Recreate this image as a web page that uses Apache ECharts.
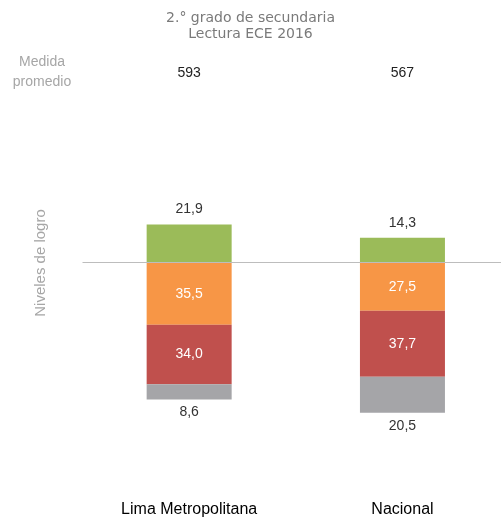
<!DOCTYPE html>
<html>
<head>
<meta charset="utf-8">
<script src="https://cdn.jsdelivr.net/npm/echarts@6/dist/echarts.min.js"></script>
<style>html,body{margin:0;padding:0;background:#fff}#c{width:501px;height:517px}</style>
</head>
<body>
<div id="c"></div>
<script>
const categories = ['Lima Metropolitana', 'Nacional'];
const medidaPromedio = [593, 567];
const satisfactorio = [21.9, 14.3];
const enProceso = [35.5, 27.5];
const enInicio = [34.0, 37.7];
const previoInicio = [8.6, 20.5];

const fmt = p => Math.abs(p.value).toFixed(1).replace('.', ',');
const chart = echarts.init(document.getElementById('c'), null, {renderer: 'canvas'});
const F = 'Liberation Sans, Arial, sans-serif';

chart.setOption({
  animation: false,
  title: {
    text: '2.° grado de secundaria\nLectura ECE 2016',
    left: 'center', top: 5,
    textStyle: {fontFamily: 'DejaVu Sans', fontWeight: 'normal', fontSize: 14, color: '#7a7a7a', lineHeight: 16}
  },
  graphic: [
    {type: 'text', x: 42, y: 72,
     style: {text: 'Medida\npromedio', fill: '#a6a6a6', font: '14px ' + F, align: 'center', verticalAlign: 'middle', lineHeight: 20}},
    {type: 'text', x: 41, y: 263, rotation: Math.PI / 2,
     style: {text: 'Niveles de logro', fill: '#a6a6a6', font: '15px ' + F, align: 'center', verticalAlign: 'middle'}}
  ],
  grid: {left: 82.5, width: 426.6, top: 157.7, height: 280, outerBoundsMode: 'none', containLabel: false},
  xAxis: [
    {type: 'category', data: categories, position: 'bottom',
     axisLine: {show: false}, axisTick: {show: false},
     axisLabel: {margin: 64, fontFamily: F, fontSize: 16, color: '#000'}},
    {type: 'category', data: medidaPromedio.map(String), position: 'top',
     axisLine: {show: false}, axisTick: {show: false},
     axisLabel: {margin: 78, fontFamily: F, fontSize: 14, color: '#222'}}
  ],
  yAxis: {type: 'value', min: -100, max: 60, show: false},
  series: [
    {name: 'Satisfactorio', type: 'bar', stack: 'a', barWidth: 85, data: satisfactorio,
     itemStyle: {color: '#9BBB59'},
     label: {show: true, position: 'top', distance: 8, formatter: fmt, fontFamily: F, fontSize: 14, color: '#333'},
     markLine: {silent: true, symbol: 'none', label: {show: false},
       lineStyle: {color: '#bdbdbd', width: 1, type: 'solid'}, data: [{yAxis: 0}]}},
    {name: 'En proceso', type: 'bar', stack: 'a', barWidth: 85, data: enProceso.map(v => -v),
     itemStyle: {color: '#F79646'},
     label: {show: true, position: 'inside', formatter: fmt, fontFamily: F, fontSize: 14, color: '#fff'}},
    {name: 'En inicio', type: 'bar', stack: 'a', barWidth: 85, data: enInicio.map(v => -v),
     itemStyle: {color: '#C0504D'},
     label: {show: true, position: 'inside', formatter: fmt, fontFamily: F, fontSize: 14, color: '#fff'}},
    {name: 'Previo al inicio', type: 'bar', stack: 'a', barWidth: 85, data: previoInicio.map(v => -v),
     itemStyle: {color: '#A5A5A8'},
     label: {show: true, position: 'bottom', distance: 6, formatter: fmt, fontFamily: F, fontSize: 14, color: '#333'}}
  ]
});
</script>
</body>
</html>
